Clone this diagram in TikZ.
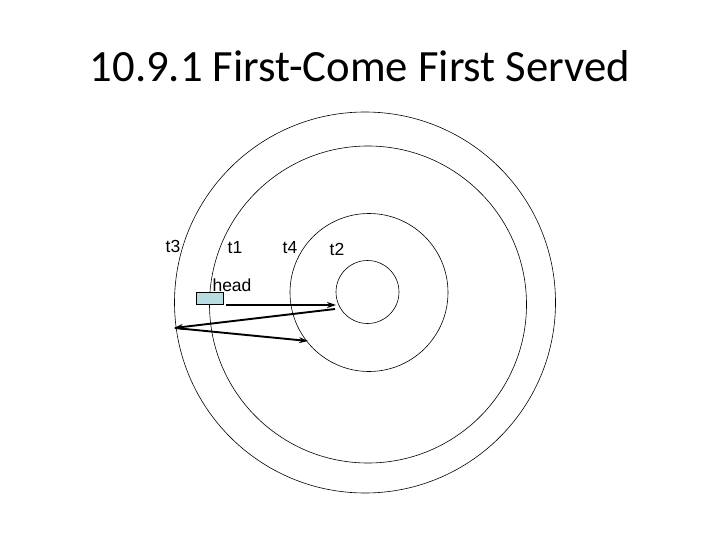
\documentclass[tikz,border=0pt]{standalone}
\usepackage{fontspec}
\setmainfont{Liberation Sans}
\newfontfamily\titlefont{Carlito}
\usetikzlibrary{arrows.meta}
\definecolor{headfill}{RGB}{183,221,225}
\begin{document}
\begin{tikzpicture}[x=1pt,y=-1pt,
  ring/.style={circle,draw,line width=0.6pt,inner sep=0pt},
  lbl/.style={font=\fontsize{17.5}{20}\selectfont,inner sep=0pt},
  move/.style={line width=1.9pt,-{Stealth[length=9pt,width=6pt]}}]
\useasboundingbox (0,0) rectangle (720,540);
\node[font=\titlefont\fontsize{44.7}{52}\selectfont,anchor=base] (title) at (360,82) {10.9.1 First-Come First Served};
\node[ring,minimum size=381pt] (c1) at (365,302.5) {};
\node[ring,minimum size=317pt] (c2) at (368,304.5) {};
\node[ring,minimum size=158pt] (c3) at (369,292.5) {};
\node[ring,minimum size=63pt] (c4) at (367.5,292) {};
\node[lbl] (t3) at (173,246) {t3};
\node[lbl] (t1) at (235,248) {t1};
\node[lbl] (t4) at (290,248) {t4};
\node[lbl] (t2) at (337,249) {t2};
\node[lbl] (headlbl) at (232,285) {head};
\node[draw,line width=0.6pt,fill=headfill,minimum width=27pt,minimum height=12pt,inner sep=0pt] (head) at (209.5,298) {};
\coordinate (a0) at (226,305);
\coordinate (a1) at (336,305);
\coordinate (b0) at (335,309);
\coordinate (b1) at (174,328);
\coordinate (c0) at (175,328);
\coordinate (cc1) at (308,341);
\draw[move] (a0) -- (a1);
\draw[move] (b0) -- (b1);
\draw[move] (c0) -- (cc1);
\end{tikzpicture}
\end{document}
